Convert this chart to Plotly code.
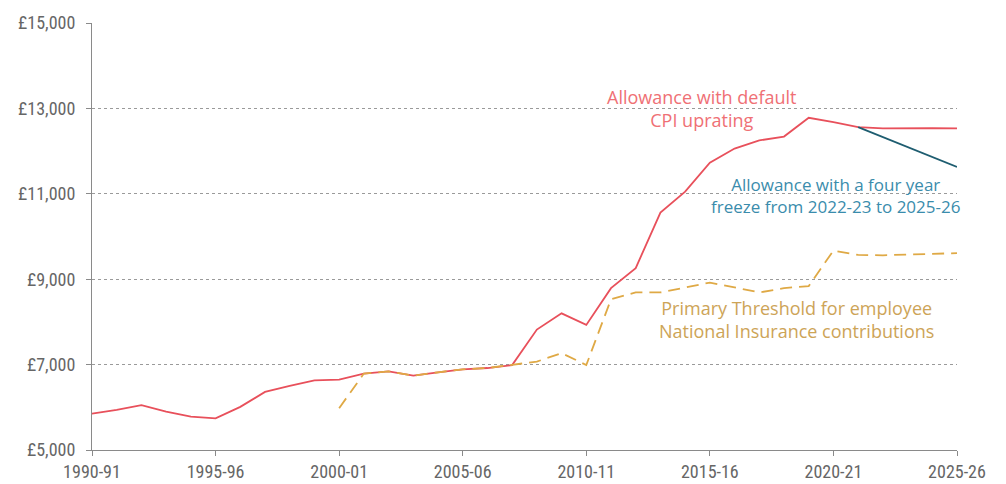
import plotly.graph_objects as go

years = [f"{y}-{str(y + 1)[-2:]}" for y in range(1990, 2026)]

allowance_cpi = [5850, 5940, 6050, 5900, 5780, 5740, 6010, 6360, 6500, 6630,
                 6650, 6790, 6840, 6740, 6820, 6890, 6920, 6990, 7820, 8200,
                 7930, 8790, 9260, 10560, 11050, 11730, 12060, 12250, 12340, 12780,
                 12680, 12560, 12530, 12540, 12540, 12530]

allowance_freeze = [None] * 31 + [12560, 12330, 12090, 11860, 11630]

ni_threshold = [None] * 10 + [5980, 6790, 6840, 6740, 6820, 6890, 6920, 6990, 7070, 7270,
                              6990, 8530, 8690, 8690, 8810, 8920, 8810, 8690, 8790, 8840,
                              9670, 9570, 9560, 9580, 9600, 9610]

tick_years = ["1990-91", "1995-96", "2000-01", "2005-06", "2010-11", "2015-16", "2020-21", "2025-26"]
y_ticks = [5000, 7000, 9000, 11000, 13000, 15000]
y_labels = ["£5,000", "£7,000", "£9,000", "£11,000", "£13,000", "£15,000"]

RED = "#E8505B"
TEAL = "#1E5D70"
GOLD = "#DFA945"

x_idx = list(range(len(years)))

fig = go.Figure()
fig.add_trace(go.Scatter(x=x_idx, y=allowance_cpi, mode="lines",
                         line=dict(color=RED, width=1.8), hoverinfo="skip"))
fig.add_trace(go.Scatter(x=x_idx, y=allowance_freeze, mode="lines",
                         line=dict(color=TEAL, width=1.8), hoverinfo="skip"))
fig.add_trace(go.Scatter(x=x_idx, y=ni_threshold, mode="lines",
                         line=dict(color=GOLD, width=1.8, dash="12px,7px"), hoverinfo="skip"))

ann_font = "Open Sans, Lato, sans-serif"
fig.add_annotation(x=24.7, y=12990, text="Allowance with default<br>CPI uprating",
                   showarrow=False, font=dict(family=ann_font, size=18, color="#EF7075"),
                   align="center")
fig.add_annotation(x=30.1, y=10950, text="Allowance with a four year<br>freeze from 2022-23 to 2025-26",
                   showarrow=False, font=dict(family=ann_font, size=17, color="#3A8CAC"),
                   align="center")
fig.add_annotation(x=28.5, y=8045, text="Primary Threshold for employee<br>National Insurance contributions",
                   showarrow=False, font=dict(family=ann_font, size=18, color="#CDA457"),
                   align="center")

tick_font = dict(family="Liberation Sans Narrow, Roboto Condensed, Roboto, sans-serif", size=18, color="#666666")

fig.update_xaxes(range=[0, 35], tickvals=[years.index(t) for t in tick_years], ticktext=tick_years,
                 showgrid=False, zeroline=False, showline=True, linecolor="#8a8a8a", linewidth=1.2,
                 ticks="outside", ticklen=5, tickcolor="#8a8a8a", tickfont=tick_font, automargin=False)
fig.update_yaxes(range=[5000, 15000], tickvals=y_ticks, ticktext=y_labels,
                 showgrid=True, gridcolor="#9a9a9a", griddash="dot", gridwidth=1,
                 zeroline=False, showline=True, linecolor="#8a8a8a", linewidth=1.2,
                 ticks="outside", ticklen=5, tickcolor="#8a8a8a", tickfont=tick_font, automargin=False,
                 ticklabelstandoff=7)

fig.update_layout(width=990, height=476, margin=dict(l=84, r=41, t=15, b=34),
                  plot_bgcolor="white", paper_bgcolor="white", showlegend=False)

fig.write_html("out.html")
